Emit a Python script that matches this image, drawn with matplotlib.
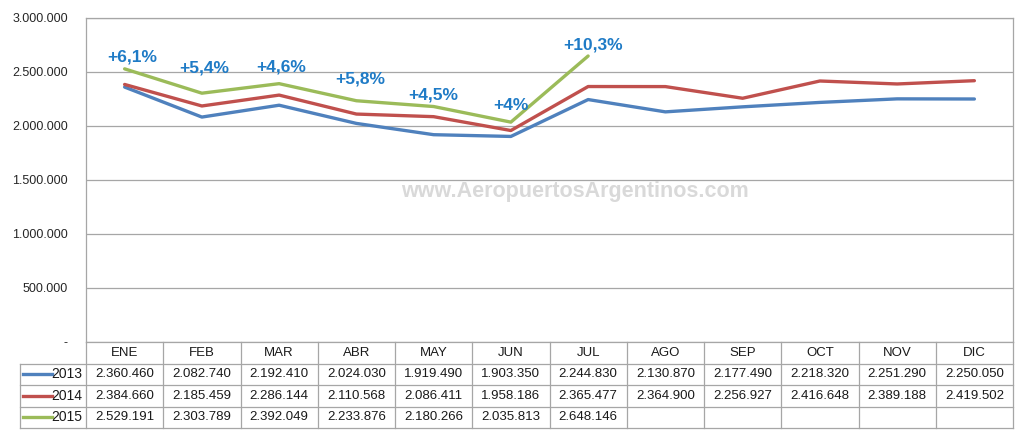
import matplotlib
matplotlib.use("Agg")
import matplotlib.pyplot as plt
from matplotlib.transforms import blended_transform_factory

# ---------------------------------------------------------------------------
# Data: monthly passengers, Aeropuertos Argentinos
# ---------------------------------------------------------------------------
months = ["ENE", "FEB", "MAR", "ABR", "MAY", "JUN",
          "JUL", "AGO", "SEP", "OCT", "NOV", "DIC"]
years = ["2013", "2014", "2015"]
pax_2013 = [2360460, 2082740, 2192410, 2024030, 1919490, 1903350,
            2244830, 2130870, 2177490, 2218320, 2251290, 2250050]
pax_2014 = [2384660, 2185459, 2286144, 2110568, 2086411, 1958186,
            2365477, 2364900, 2256927, 2416648, 2389188, 2419502]
pax_2015 = [2529191, 2303789, 2392049, 2233876, 2180266, 2035813, 2648146]
growth_labels = ["+6,1%", "+5,4%", "+4,6%", "+5,8%", "+4,5%", "+4%", "+10,3%"]
y_ticks = [0, 500000, 1000000, 1500000, 2000000, 2500000, 3000000]

colours = ["#4F81BD", "#C0504D", "#9BBB59"]
series = [pax_2013, pax_2014, pax_2015]
# pixel offsets of the growth labels from the 2015 points
label_offsets = [(8, 12), (2, 25), (2, 17), (4, 22), (0, 12), (0, 17), (5, 11)]

plt.rcParams["font.family"] = ["Liberation Sans", "DejaVu Sans"]


def fmt(v):
    return f"{v:,}".replace(",", ".")


W, H = 1024, 438
fig = plt.figure(figsize=(W / 100, H / 100), dpi=100)
ax = fig.add_axes([86 / W, 1 - 342 / H, 927 / W, 324 / H])

for vals, c in zip(series, colours):
    ax.plot(range(len(vals)), vals, color=c, lw=2.4,
            solid_joinstyle="round", solid_capstyle="round", zorder=3)

for i, (lab, (dx, dy)) in enumerate(zip(growth_labels, label_offsets)):
    ax.annotate(lab, (i, pax_2015[i]), xytext=(dx, dy),
                textcoords="offset pixels", ha="center", va="center",
                fontsize=12.5, fontweight="bold", color="#1F7BC6", zorder=4)

ax.set_xlim(-0.5, len(months) - 0.5)
ax.set_ylim(0, 3000000)
ax.set_xticks([])
ax.set_yticks(y_ticks)
ax.set_yticklabels(["-" if t == 0 else fmt(t) for t in y_ticks],
                   fontsize=9, color="#262626")
ax.tick_params(axis="y", length=0, pad=13)
ax.yaxis.grid(True, color="#A6A6A6", lw=0.9)
ax.set_axisbelow(True)
for s in ax.spines.values():
    s.set_color("#A6A6A6")
    s.set_linewidth(0.9)

ax.text(0.527, 0.463, "www.AeropuertosArgentinos.com", transform=ax.transAxes,
        ha="center", va="center", fontsize=15.5, fontweight="bold",
        color="#D9D9D9", zorder=1)

# ---------------------------------------------------------------------------
# Data table under the plot
# ---------------------------------------------------------------------------
tr = blended_transform_factory(ax.transData, ax.transAxes)
rh = 21.5 / 324
px = 1 / 77.25                      # one pixel in x data units
x_left = -0.5 - 66 * px
x_right = len(months) - 0.5
grid_kw = dict(color="#A6A6A6", lw=0.9, transform=tr, clip_on=False)

for r in range(1, 5):
    ax.plot([x_left, x_right], [-r * rh, -r * rh], **grid_kw)
for i in range(len(months) + 1):
    ax.plot([i - 0.5, i - 0.5], [0, -4 * rh], **grid_kw)
ax.plot([x_left, x_left], [-rh, -4 * rh], **grid_kw)

for i, m in enumerate(months):
    ax.text(i, -0.5 * rh, m, transform=tr, ha="center", va="center",
            fontsize=9.5, color="#1a1a1a")

for r, (yr, vals, c) in enumerate(zip(years, series, colours)):
    yc = -(r + 1.5) * rh
    ax.plot([-0.5 - 63 * px, -0.5 - 34 * px], [yc, yc], color=c, lw=2.4,
            transform=tr, clip_on=False)
    ax.text(-0.5 - 4 * px, yc, yr, transform=tr, ha="right", va="center",
            fontsize=10, color="#1a1a1a")
    for i, v in enumerate(vals):
        ax.text(i, yc, fmt(v), transform=tr, ha="center", va="center",
                fontsize=9.5, color="#1a1a1a")

fig.savefig("out.png", dpi=100)
